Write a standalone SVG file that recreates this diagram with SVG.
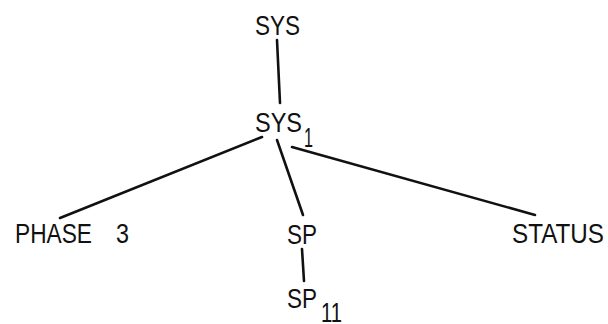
<svg xmlns="http://www.w3.org/2000/svg" width="608" height="324" viewBox="0 0 608 324">
  <style>
    .lbl { font-family: "Liberation Sans", Arial, sans-serif; font-size: 28px; fill: #111; }
    .edge { stroke: #111; stroke-width: 2.6; stroke-linecap: round; fill: none; }
  </style>
  <rect width="608" height="324" fill="#fff"/>

  <!-- tree edges -->
  <g id="connectors">
    <line class="edge" x1="277" y1="40" x2="280" y2="103"/>
    <line class="edge" x1="262" y1="137" x2="60" y2="218"/>
    <line class="edge" x1="277" y1="140" x2="303" y2="215"/>
    <line class="edge" x1="292" y1="147" x2="535" y2="215" stroke-width="3.2"/>
    <line class="edge" x1="302" y1="249" x2="304" y2="281"/>
  </g>

  <g id="sys">
    <text class="lbl" x="255" y="35" textLength="45" lengthAdjust="spacingAndGlyphs">SYS</text>
  </g>

  <g id="sys1">
    <text class="lbl" x="255" y="132" textLength="47" lengthAdjust="spacingAndGlyphs">SYS</text>
    <text class="lbl" x="304" y="147" textLength="9" lengthAdjust="spacingAndGlyphs">1</text>
  </g>

  <g id="phase3">
    <text class="lbl" x="15" y="243" textLength="77" lengthAdjust="spacingAndGlyphs">PHASE</text>
    <text class="lbl" x="116" y="243" textLength="13" lengthAdjust="spacingAndGlyphs">3</text>
  </g>

  <g id="sp">
    <text class="lbl" x="287" y="244" textLength="30" lengthAdjust="spacingAndGlyphs">SP</text>
  </g>

  <g id="status">
    <text class="lbl" x="512" y="243" textLength="92" lengthAdjust="spacingAndGlyphs">STATUS</text>
  </g>

  <g id="sp11">
    <text class="lbl" x="287" y="308" textLength="30" lengthAdjust="spacingAndGlyphs">SP</text>
    <text class="lbl" x="321" y="322" textLength="21" lengthAdjust="spacingAndGlyphs">11</text>
  </g>
</svg>
